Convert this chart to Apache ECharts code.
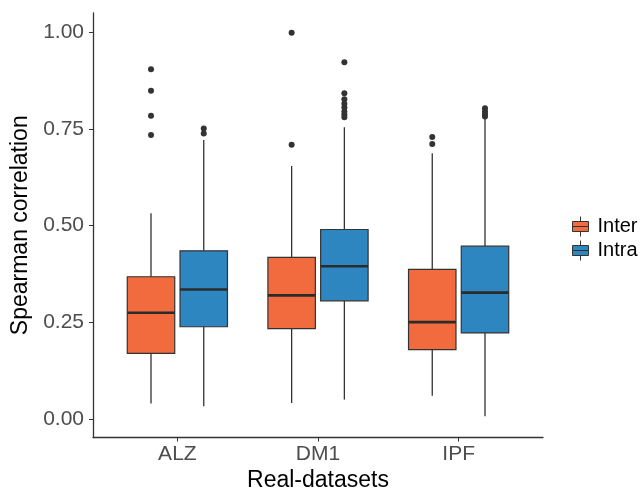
<!DOCTYPE html>
<html><head><meta charset="utf-8">
<script src="https://cdn.jsdelivr.net/npm/echarts@6/dist/echarts.min.js"></script>
<style>html,body{margin:0;padding:0;background:#fff}#c{width:644px;height:492px}</style>
</head><body><div id="c"></div>
<script>
const categories = ['ALZ', 'DM1', 'IPF'];
const groups = ['Inter', 'Intra'];
// [lower whisker, Q1, median, Q3, upper whisker]
const interStats = [
  [0.041, 0.170, 0.275, 0.368, 0.532],
  [0.042, 0.234, 0.320, 0.418, 0.654],
  [0.061, 0.180, 0.251, 0.387, 0.687]
];
const intraStats = [
  [0.034, 0.239, 0.335, 0.435, 0.721],
  [0.051, 0.306, 0.395, 0.490, 0.754],
  [0.008, 0.223, 0.327, 0.447, 0.777]
];
const interOutliers = [
  [0.904, 0.848, 0.784, 0.734],
  [0.998, 0.709],
  [0.729, 0.711]
];
const intraOutliers = [
  [0.751, 0.738],
  [0.922, 0.842, 0.826, 0.815, 0.805, 0.795, 0.787, 0.780],
  [0.803, 0.795, 0.788, 0.782]
];
const yTicks = [0, 0.25, 0.5, 0.75, 1.0];
const yTickLabels = ['0.00', '0.25', '0.50', '0.75', '1.00'];
const xTicks = [1, 2, 3];

const colors = { Inter: '#F26B3E', Intra: '#2E86C1' };
const FONT = 'Liberation Sans';
const SLOT = 0.375, BOXW = 0.3375;

function boxData(stats) {
  return stats.map((s, i) => [i + 1].concat(s));
}
function outlierData(outs) {
  const d = [];
  outs.forEach((arr, i) => arr.forEach(v => d.push([i + 1, v])));
  return d;
}
function boxRender(dodge, color) {
  return function (params, api) {
    const x = api.value(0);
    const p0 = api.coord([x, 0]);
    const unit = api.coord([x + 1, 0])[0] - p0[0];
    const cx = p0[0] + dodge * SLOT / 2 * unit;
    const hw = BOXW * unit / 2;
    const yMin = api.coord([x, api.value(1)])[1];
    const yQ1 = api.coord([x, api.value(2)])[1];
    const yMed = api.coord([x, api.value(3)])[1];
    const yQ3 = api.coord([x, api.value(4)])[1];
    const yMax = api.coord([x, api.value(5)])[1];
    const ls = { stroke: '#333333', lineWidth: 1.3 };
    return {
      type: 'group',
      children: [
        { type: 'line', shape: { x1: cx, y1: yMax, x2: cx, y2: yQ3 }, style: ls },
        { type: 'line', shape: { x1: cx, y1: yQ1, x2: cx, y2: yMin }, style: ls },
        { type: 'rect', shape: { x: cx - hw, y: yQ3, width: 2 * hw, height: yQ1 - yQ3 },
          style: { fill: color, stroke: '#333333', lineWidth: 1.2 } },
        { type: 'line', shape: { x1: cx - hw, y1: yMed, x2: cx + hw, y2: yMed },
          style: { stroke: '#2b2b2b', lineWidth: 2.6 } }
      ]
    };
  };
}
function outlierRender(dodge) {
  return function (params, api) {
    const x = api.value(0);
    const p = api.coord([x, api.value(1)]);
    const unit = api.coord([x + 1, 0])[0] - api.coord([x, 0])[0];
    return {
      type: 'circle',
      shape: { cx: p[0] + dodge * SLOT / 2 * unit, cy: p[1], r: 3 },
      style: { fill: '#333333' }
    };
  };
}

const iconPath = 'path://M8,0 L8,5 M0,5 L16,5 L16,15 L0,15 Z M0,10 L16,10 M8,15 L8,20';

const option = {
  backgroundColor: '#ffffff',
  animation: false,
  grid: { left: 93, right: 101, top: 13, bottom: 54.5, containLabel: false, outerBoundsMode: 'none' },
  xAxis: {
    type: 'value', min: 0.4, max: 3.6,
    name: 'Real-datasets', nameLocation: 'middle', nameGap: 31,
    nameTextStyle: { fontFamily: FONT, fontSize: 23, color: '#000' },
    axisLine: { show: true, onZero: false, lineStyle: { color: '#333', width: 1.3 } },
    axisTick: { show: true, length: 4, customValues: xTicks, lineStyle: { color: '#333', width: 1 } },
    axisLabel: { customValues: xTicks, margin: 6, fontFamily: FONT, fontSize: 21, color: '#4D4D4D',
      formatter: v => categories[Math.round(v) - 1] },
    splitLine: { show: false }
  },
  yAxis: {
    type: 'value', min: -0.047, max: 1.049,
    name: 'Spearman correlation', nameLocation: 'middle', nameGap: 57, nameRotate: 90,
    nameTextStyle: { fontFamily: FONT, fontSize: 23, color: '#000' },
    axisLine: { show: true, onZero: false, lineStyle: { color: '#333', width: 1.3 } },
    axisTick: { show: true, length: 4, customValues: yTicks, lineStyle: { color: '#333', width: 1 } },
    axisLabel: { customValues: yTicks, margin: 9, fontFamily: FONT, fontSize: 21, color: '#4D4D4D',
      formatter: v => yTickLabels[yTicks.findIndex(t => Math.abs(t - v) < 1e-6)] },
    splitLine: { show: false }
  },
  legend: {
    left: 567, top: 211, orient: 'vertical',
    itemWidth: 16, itemHeight: 20, itemGap: 3,
    textStyle: { fontFamily: FONT, fontSize: 20, color: '#000', padding: [0, 0, 0, 4] },
    data: groups.map(g => ({ name: g, icon: iconPath,
      itemStyle: { color: colors[g], borderColor: '#333333', borderWidth: 1 } }))
  },
  series: [
    { name: 'Inter', type: 'custom', renderItem: boxRender(-1, colors.Inter),
      encode: { x: 0, y: [1, 2, 3, 4, 5] }, itemStyle: { color: colors.Inter }, data: boxData(interStats) },
    { name: 'Intra', type: 'custom', renderItem: boxRender(1, colors.Intra),
      encode: { x: 0, y: [1, 2, 3, 4, 5] }, itemStyle: { color: colors.Intra }, data: boxData(intraStats) },
    { name: 'Inter', type: 'custom', renderItem: outlierRender(-1),
      encode: { x: 0, y: 1 }, itemStyle: { color: colors.Inter }, data: outlierData(interOutliers) },
    { name: 'Intra', type: 'custom', renderItem: outlierRender(1),
      encode: { x: 0, y: 1 }, itemStyle: { color: colors.Intra }, data: outlierData(intraOutliers) }
  ]
};
const chart = echarts.init(document.getElementById('c'), null, { renderer: 'canvas' });
chart.setOption(option);
</script></body></html>
